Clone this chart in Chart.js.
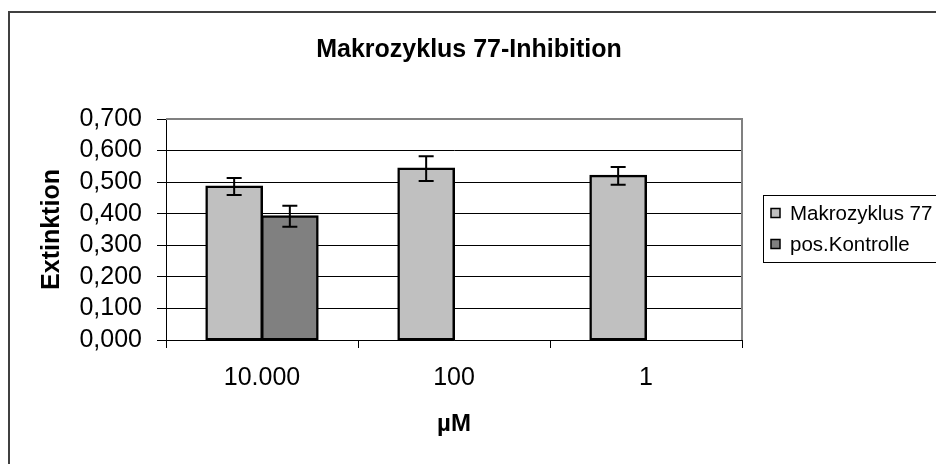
<!DOCTYPE html>
<html>
<head>
<meta charset="utf-8">
<script src="https://cdn.jsdelivr.net/npm/chart.js@4.4.0/dist/chart.umd.min.js"></script>
<style>
  html, body { margin: 0; padding: 0; background: #fff; }
  #chart { display: block; }
</style>
</head>
<body>
<canvas id="chart" width="936" height="464"></canvas>
<script>
const chartTitle = "Makrozyklus 77-Inhibition";
const categories = ["10.000", "100", "1"];
const seriesNames = ["Makrozyklus 77", "pos.Kontrolle"];
const makrozyklus = [0.486, 0.543, 0.520];
const makrozyklusErr = [0.027, 0.039, 0.028];
const posKontrolle = [0.392, null, null];
const posKontrolleErr = [0.033, null, null];
const seriesColors = ["#c0c0c0", "#808080"];

const FONT = "'Liberation Sans', Arial, sans-serif";

// whisker lines on top of each bar
const errorBars = {
  id: "errorBars",
  afterDatasetsDraw(chart) {
    const ctx = chart.ctx;
    const yScale = chart.scales.y;
    chart.data.datasets.forEach((ds, i) => {
      const meta = chart.getDatasetMeta(i);
      meta.data.forEach((bar, j) => {
        const v = ds.data[j];
        const e = ds.errors[j];
        if (v == null || e == null) return;
        const top = yScale.getPixelForValue(v + e);
        const bot = yScale.getPixelForValue(v - e);
        ctx.save();
        ctx.strokeStyle = "#000";
        ctx.lineWidth = 2;
        ctx.beginPath();
        ctx.moveTo(bar.x, top); ctx.lineTo(bar.x, bot);
        ctx.moveTo(bar.x - 7.5, top); ctx.lineTo(bar.x + 7.5, top);
        ctx.moveTo(bar.x - 7.5, bot); ctx.lineTo(bar.x + 7.5, bot);
        ctx.stroke();
        ctx.restore();
      });
    });
  }
};

// outer frame, grey plot border, title and boxed legend
const frame = {
  id: "frame",
  beforeDraw(chart) {
    const ctx = chart.ctx;
    ctx.save();
    ctx.fillStyle = "#fff";
    ctx.fillRect(0, 0, chart.width, chart.height);
    ctx.strokeStyle = "#404040";
    ctx.lineWidth = 2;
    ctx.strokeRect(9, 12, 1200, 1200);
    ctx.restore();
  },
  beforeDatasetsDraw(chart) {
    const a = chart.chartArea;
    const ctx = chart.ctx;
    ctx.save();
    ctx.strokeStyle = "#808080";
    ctx.lineWidth = 2;
    ctx.beginPath();
    ctx.moveTo(a.left, a.top);
    ctx.lineTo(a.right, a.top);
    ctx.lineTo(a.right, a.bottom);
    ctx.stroke();
    ctx.restore();
  },
  afterDraw(chart) {
    const ctx = chart.ctx;
    ctx.save();
    ctx.fillStyle = "#000";
    ctx.font = "bold 25px " + FONT;
    ctx.textAlign = "center";
    ctx.textBaseline = "alphabetic";
    ctx.fillText(chartTitle, 469, 57);

    // legend box
    ctx.strokeStyle = "#000";
    ctx.lineWidth = 1;
    ctx.strokeRect(763.5, 195.5, 400, 67);
    ctx.font = "20.5px " + FONT;
    ctx.textAlign = "left";
    ctx.textBaseline = "middle";
    chart.data.datasets.forEach((ds, i) => {
      const cy = 213 + i * 31;
      ctx.fillStyle = ds.backgroundColor;
      ctx.fillRect(771, cy - 4.5, 9, 9);
      ctx.lineWidth = 1.5;
      ctx.strokeRect(771, cy - 4.5, 9, 9);
      ctx.fillStyle = "#000";
      ctx.fillText(ds.label, 790, cy + 1);
    });
    ctx.restore();
  }
};

new Chart(document.getElementById("chart"), {
  type: "bar",
  plugins: [frame, errorBars],
  data: {
    labels: categories,
    datasets: [
      {
        label: seriesNames[0],
        data: makrozyklus,
        errors: makrozyklusErr,
        backgroundColor: seriesColors[0],
        borderColor: "#000",
        borderWidth: 2.5,
        borderSkipped: false,
        inflateAmount: 1,
        categoryPercentage: 0.58,
        barPercentage: 1.0
      },
      {
        label: seriesNames[1],
        data: posKontrolle,
        errors: posKontrolleErr,
        backgroundColor: seriesColors[1],
        borderColor: "#000",
        borderWidth: 2.5,
        borderSkipped: false,
        inflateAmount: 1,
        categoryPercentage: 0.58,
        barPercentage: 1.0
      }
    ]
  },
  options: {
    responsive: false,
    animation: false,
    layout: { padding: { left: 9, top: 119, right: 194, bottom: 0 } },
    plugins: {
      legend: { display: false },
      tooltip: { enabled: false },
      title: { display: false }
    },
    scales: {
      x: {
        offset: true,
        grid: { offset: true, drawOnChartArea: false, drawTicks: true, tickLength: 8, color: "#000", lineWidth: 1 },
        border: { color: "#000", width: 1 },
        ticks: { color: "#000", padding: 15, maxRotation: 0, font: { family: FONT, size: 25 } },
        title: {
          display: true, text: "µM", color: "#000",
          font: { family: FONT, size: 24, weight: "bold" },
          padding: { top: 0, bottom: 25 }
        },
        afterFit(scale) { scale.height = 124; }
      },
      y: {
        min: 0, max: 0.7,
        grid: { color: "#000", lineWidth: 1, tickLength: 9 },
        border: { color: "#000", width: 1 },
        ticks: {
          stepSize: 0.1, autoSkip: false, color: "#000", padding: 15,
          font: { family: FONT, size: 25 },
          callback: (v) => v.toFixed(3).replace(".", ",")
        },
        title: {
          display: true, text: "Extinktion", color: "#000",
          font: { family: FONT, size: 25, weight: "bold" },
          padding: { top: 28, bottom: 0 }
        },
        afterFit(scale) { scale.width = 157; }
      }
    }
  }
});
</script>
</body>
</html>
